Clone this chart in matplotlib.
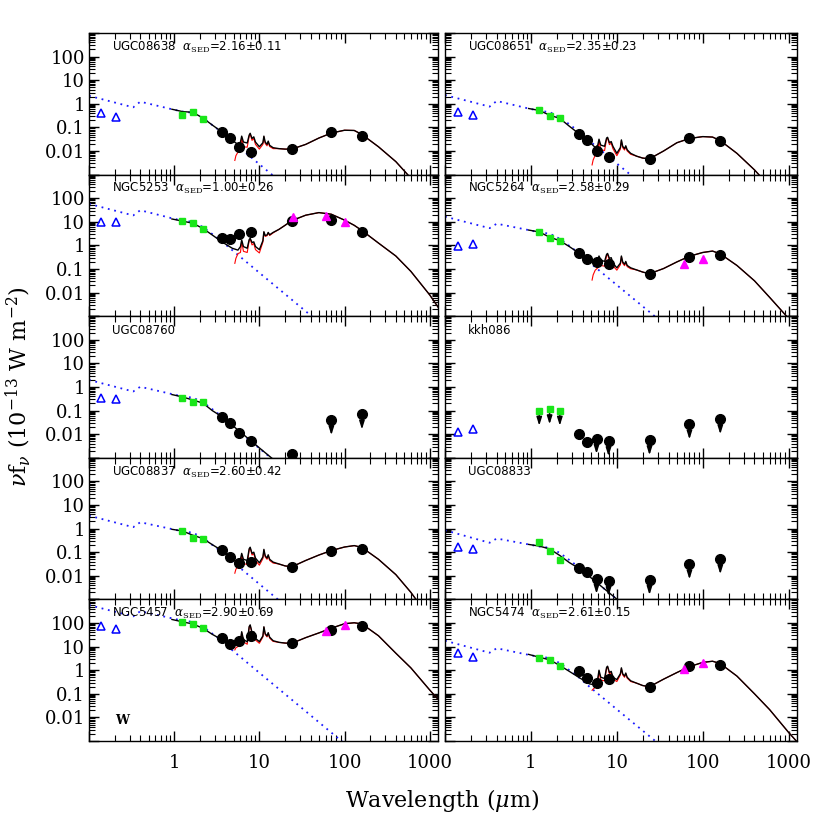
import numpy as np
import matplotlib
matplotlib.use('Agg')
import matplotlib.pyplot as plt
from matplotlib.ticker import FixedLocator, FixedFormatter, LogLocator, NullFormatter

plt.rcParams['mathtext.fontset'] = 'dejavuserif'

# ------------------------------------------------------------------ data
NAMES = ['UGC08638', 'UGC08651', 'NGC5253', 'NGC5264', 'UGC08760',
         'kkh086', 'UGC08837', 'UGC08833', 'NGC5457', 'NGC5474']
ALPHA = ['2.16\u00b10.11', '2.35\u00b10.23', '1.00\u00b10.26', '2.58\u00b10.29', None,
         None, '2.60\u00b10.42', None, '2.90\u00b10.69', '2.61\u00b10.15']

# all fluxes below are log10( nu f_nu / 1e-13 W m^-2 )
UV_WL = [0.14, 0.21]
UV_LOGF = [[-0.40, -0.55], [-0.33, -0.47], [0.98, 0.98], [-0.03, 0.06], [-0.48, -0.52],
           [-1.89, -1.79], None, [-0.79, -0.86], [1.87, 1.75], [0.72, 0.58]]

NIR_WL = [1.25, 1.65, 2.17]
NIR_LOGF = [[-0.47, -0.36, -0.66], [-0.28, -0.52, -0.62], [1.03, 0.94, 0.70],
            [0.57, 0.33, 0.19], [-0.45, -0.62, -0.65], [-1.00, -0.94, -1.00],
            [-0.09, -0.40, -0.42], [-0.55, -0.95, -1.33], [2.03, 1.96, 1.78],
            [0.53, 0.43, 0.18]]
NIR_LIMIT = [[0, 0, 0]] * 5 + [[1, 1, 1]] + [[0, 0, 0]] * 4

IR_WL = [3.6, 4.5, 5.8, 8.0, 24.0, 70.0, 160.0]
IR_LOGF = [[-1.18, -1.46, -1.84, -2.06, -1.92, -1.21, -1.35],
           [-1.28, -1.53, -2.01, -2.27, -2.34, -1.46, -1.58],
           [0.33, 0.26, 0.47, 0.57, 1.05, 1.08, 0.58],
           [-0.34, -0.59, -0.72, -0.79, -1.21, -0.48, -0.39],
           [-1.28, -1.54, -1.96, -2.29, -2.84, -1.40, -1.16],
           [-2.00, -2.32, -2.19, -2.29, -2.25, -1.58, -1.36],
           [-0.91, -1.19, -1.44, -1.40, -1.64, -0.93, -0.85],
           [-1.68, -1.86, -2.12, -2.22, -2.17, -1.51, -1.29],
           [1.38, 1.11, 1.24, 1.45, 1.14, 1.70, 1.87],
           [-0.03, -0.33, -0.55, -0.38, -0.72, 0.18, 0.24]]
IR_LIMIT = [[0] * 7, [0] * 7, [0] * 7, [0] * 7,
            [0, 0, 0, 0, 0, 1, 1],
            [0, 0, 1, 1, 1, 1, 1],
            [0] * 7,
            [0, 0, 1, 1, 1, 1, 1],
            [0] * 7, [0] * 7]

IRAS_WL = [[], [], [25.0, 60.0, 100.0], [60.0, 100.0], [], [], [], [],
           [60.0, 100.0], [60.0, 100.0]]
IRAS_LOGF = [[], [], [1.22, 1.25, 1.00], [-0.79, -0.59], [], [], [], [],
             [1.66, 1.92], [0.05, 0.29]]

# stellar model (blue dotted)
STAR_WL = [0.1, 0.33, 0.40, 0.94, 1.25, 1.65, 2.17, 2.8, 3.6, 4.8, 10.0, 30.0, 100.0]
STAR_LOGF = [[0.34, -0.15, 0.09, -0.23, -0.33, -0.38, -0.60, -0.90, -1.20, -1.60, -2.56, -3.99, -5.56],
             [0.37, -0.12, 0.12, -0.20, -0.30, -0.35, -0.57, -0.87, -1.17, -1.57, -2.53, -3.96, -5.53],
             [1.76, 1.27, 1.49, 1.15, 1.05, 1.00, 0.78, 0.48, 0.18, -0.20, -1.16, -2.59, -4.16],
             [1.22, 0.73, 0.92, 0.65, 0.55, 0.50, 0.28, -0.02, -0.32, -0.72, -1.68, -3.11, -4.68],
             [0.30, -0.19, 0.01, -0.30, -0.40, -0.45, -0.64, -0.94, -1.24, -1.64, -2.60, -4.03, -5.60],
             None,
             [0.55, 0.06, 0.27, -0.02, -0.12, -0.17, -0.39, -0.69, -0.99, -1.39, -2.35, -3.78, -5.35],
             [-0.07, -0.60, -0.42, -0.67, -0.76, -0.81, -1.03, -1.33, -1.63, -2.03, -2.99, -4.42, -5.99],
             [2.76, 2.28, 2.50, 2.20, 2.10, 2.05, 1.85, 1.55, 1.25, 0.85, -0.11, -1.54, -3.11],
             [1.25, 0.74, 0.93, 0.65, 0.57, 0.52, 0.30, 0.00, -0.30, -0.70, -1.66, -3.09, -4.66]]

# total model (black solid)
MODEL_WL = [0.94, 1.25, 1.65, 2.17, 2.8, 3.6, 4.8, 5.6, 6.0, 6.2, 6.5, 7.2, 7.6, 7.8, 8.2,
            8.6, 9.0, 10.0, 11.0, 11.3, 11.7, 12.3, 12.7, 13.2, 14.5, 17.0, 20.0, 24.0,
            35.0, 50.0, 70.0, 100.0, 130.0, 160.0, 250.0, 400.0, 600.0, 1000.0, 1300.0]
MODEL_LOGF = [
    [-0.23, -0.33, -0.36, -0.60, -0.90, -1.18, -1.55, -1.72, -1.62, -1.37, -1.62, -1.66, -1.32,
     -1.25, -1.47, -1.40, -1.62, -1.82, -1.65, -1.37, -1.62, -1.72, -1.58, -1.76, -1.86, -1.90,
     -1.92, -1.92, -1.72, -1.45, -1.24, -1.12, -1.13, -1.30, -1.82, -2.45, -3.15, -4.20, -4.80],
    [-0.20, -0.28, -0.48, -0.62, -0.95, -1.26, -1.62, -1.85, -1.75, -1.50, -1.75, -1.80, -1.45,
     -1.42, -1.65, -1.60, -1.80, -2.10, -1.85, -1.53, -1.80, -1.90, -1.78, -1.95, -2.10, -2.22,
     -2.30, -2.33, -2.00, -1.65, -1.47, -1.39, -1.41, -1.56, -2.10, -2.80, -3.50, -4.60, -5.20],
    [1.12, 1.03, 0.94, 0.72, 0.44, 0.16, -0.12, -0.20, -0.05, 0.23, -0.05, -0.12, 0.25,
     0.30, 0.12, 0.15, -0.05, -0.18, 0.20, 0.58, 0.42, 0.44, 0.55, 0.45, 0.55, 0.68,
     0.85, 1.05, 1.28, 1.39, 1.32, 1.07, 0.85, 0.63, 0.10, -0.45, -1.10, -2.10, -2.70],
    [0.65, 0.57, 0.35, 0.20, -0.05, -0.32, -0.62, -0.70, -0.60, -0.45, -0.62, -0.68, -0.38,
     -0.34, -0.55, -0.52, -0.75, -0.95, -0.75, -0.45, -0.70, -0.80, -0.68, -0.85, -0.95, -1.04,
     -1.13, -1.20, -0.98, -0.70, -0.46, -0.30, -0.24, -0.36, -0.85, -1.50, -2.20, -3.10, -3.70],
    None,
    None,
    [-0.03, -0.10, -0.28, -0.42, -0.68, -0.92, -1.30, -1.45, -1.30, -1.05, -1.30, -1.35, -0.85,
     -0.79, -1.05, -1.00, -1.25, -1.45, -1.20, -0.88, -1.15, -1.25, -1.11, -1.30, -1.42, -1.50,
     -1.58, -1.62, -1.35, -1.12, -0.93, -0.78, -0.72, -0.80, -1.30, -1.95, -2.70, -3.80, -4.40],
    None,
    [2.15, 2.05, 1.96, 1.78, 1.52, 1.30, 1.08, 1.07, 1.25, 1.63, 1.30, 1.20, 1.85,
     1.92, 1.60, 1.63, 1.35, 1.21, 1.45, 1.84, 1.55, 1.45, 1.59, 1.40, 1.25, 1.18,
     1.15, 1.14, 1.38, 1.58, 1.78, 1.97, 2.01, 1.96, 1.46, 0.72, 0.10, -0.84, -1.30],
    [0.67, 0.55, 0.44, 0.20, -0.05, -0.30, -0.58, -0.62, -0.35, 0.00, -0.30, -0.35, 0.12,
     0.17, -0.10, -0.05, -0.30, -0.40, -0.15, 0.10, -0.15, -0.25, -0.12, -0.30, -0.45, -0.55,
     -0.65, -0.70, -0.38, -0.10, 0.15, 0.33, 0.38, 0.28, -0.25, -1.00, -1.67, -2.64, -3.10]]

# stellar-only total for panels without a dust fit (black solid)
STELLAR_TOTAL_WL = [0.94, 1.25, 1.65, 2.17, 2.8, 3.6, 4.8, 10.0, 30.0]
STELLAR_TOTAL_LOGF = {4: [-0.32, -0.42, -0.55, -0.68, -1.00, -1.25, -1.62, -2.58, -4.00],
                      7: [-0.67, -0.74, -0.86, -1.14, -1.44, -1.68, -2.03, -2.99, -4.42]}

# dust-only model (red) at short wavelengths; beyond it follows the total model
RED_WL = [5.15, 5.3, 5.6, 6.0, 6.2, 6.5, 7.2, 7.6, 7.8, 8.2, 8.6, 9.0, 10.0, 11.0, 11.3,
          11.7, 12.3, 12.7, 13.2, 14.5]
RED_LOGF = {
    0: [-2.40, -2.20, -2.05, -1.92, -1.42, -1.82, -1.84, -1.36, -1.28, -1.55, -1.47, -1.72,
        -1.92, -1.72, -1.40, -1.68, -1.78, -1.62, -1.81, -1.90],
    1: [-2.59, -2.38, -2.18, -2.05, -1.55, -1.95, -1.98, -1.49, -1.45, -1.73, -1.67, -1.90,
        -2.20, -1.92, -1.56, -1.86, -1.96, -1.82, -2.00, -2.14],
    2: [-0.76, -0.55, -0.35, -0.30, 0.18, -0.25, -0.30, 0.21, 0.27, 0.02, 0.08, -0.18,
        -0.32, 0.14, 0.56, 0.38, 0.41, 0.53, 0.42, 0.53],
    3: [-1.47, -1.25, -1.05, -0.95, -0.52, -0.85, -0.88, -0.43, -0.38, -0.65, -0.60, -0.86,
        -1.05, -0.82, -0.48, -0.76, -0.86, -0.72, -0.90, -0.99],
    6: [-1.89, -1.72, -1.62, -1.55, -1.10, -1.48, -1.52, -0.89, -0.82, -1.12, -1.06, -1.35,
        -1.55, -1.27, -0.91, -1.20, -1.30, -1.15, -1.35, -1.46],
    8: [0.86, 0.95, 1.00, 1.12, 1.60, 1.20, 1.10, 1.83, 1.90, 1.55, 1.59, 1.28, 1.14, 1.41,
        1.82, 1.51, 1.41, 1.56, 1.36, 1.22],
    9: [-0.85, -0.80, -0.72, -0.52, -0.05, -0.42, -0.45, 0.09, 0.15, -0.16, -0.10, -0.38,
        -0.48, -0.20, 0.07, -0.20, -0.30, -0.15, -0.34, -0.48]}

Y_TICKS = [1e-3, 1e-2, 1e-1, 1, 10, 100, 1e3]
Y_TICKLABELS = ['', '0.01', '0.1', '1', '10', '100', '']
X_TICKS = [0.1, 1, 10, 100, 1000]
X_TICKLABELS = ['', '1', '10', '100', '1000']

# ------------------------------------------------------------------ figure
W = 830.0
fig = plt.figure(figsize=(8.3, 8.3), dpi=100)
COLS = [(89, 438), (445, 797)]
TOP, ROWH = 33.0, 141.6

GREEN = '#19e619'
ARROW_DEX = 0.64


def down_arrow(ax, x, logy):
    ax.annotate('', xy=(x, 10 ** (logy - ARROW_DEX)), xytext=(x, 10 ** logy),
                arrowprops=dict(arrowstyle='-|>,head_width=0.22,head_length=0.7',
                                lw=1.1, color='k', shrinkA=0, shrinkB=0,
                                mutation_scale=7),
                zorder=4)


for i in range(10):
    r, c = divmod(i, 2)
    x0, x1 = COLS[c]
    ytop = TOP + r * ROWH
    ax = fig.add_axes([x0 / W, 1 - (ytop + ROWH) / W, (x1 - x0) / W, ROWH / W])
    ax.set_xscale('log')
    ax.set_yscale('log')
    ax.set_xlim(0.1, 1250)
    ax.set_ylim(1e-3, 1e3)

    # stellar model
    if STAR_LOGF[i] is not None:
        ax.plot(STAR_WL, 10 ** np.array(STAR_LOGF[i]), color='#1a1aff',
                ls=(0, (1, 2.6)), lw=1.3, zorder=2)
    # dust model (red) and total model (black)
    if MODEL_LOGF[i] is not None:
        red_wl = RED_WL + MODEL_WL[25:]
        red_f = RED_LOGF[i] + MODEL_LOGF[i][25:]
        ax.plot(red_wl, 10 ** np.array(red_f), color='#ff0000', lw=0.8, zorder=2.5)
        ax.plot(MODEL_WL, 10 ** np.array(MODEL_LOGF[i]), color='k', lw=1.0, zorder=3)
    if i in STELLAR_TOTAL_LOGF:
        ax.plot(STELLAR_TOTAL_WL, 10 ** np.array(STELLAR_TOTAL_LOGF[i]), color='k',
                lw=1.0, zorder=3)

    # photometry
    if UV_LOGF[i] is not None:
        ax.plot(UV_WL, 10 ** np.array(UV_LOGF[i]), ls='none', marker='^', ms=6.0,
                mfc='none', mec='#0000ff', mew=1.1, zorder=5)
    ax.plot(NIR_WL, 10 ** np.array(NIR_LOGF[i]), ls='none', marker='s', ms=5.0,
            mfc=GREEN, mec=GREEN, zorder=5)
    for x, f, lim in zip(NIR_WL, NIR_LOGF[i], NIR_LIMIT[i]):
        if lim:
            down_arrow(ax, x, f)
    ax.plot(IR_WL, 10 ** np.array(IR_LOGF[i]), ls='none', marker='o', ms=7.0,
            mfc='k', mec='k', zorder=5)
    for x, f, lim in zip(IR_WL, IR_LOGF[i], IR_LIMIT[i]):
        if lim:
            down_arrow(ax, x, f)
    if IRAS_WL[i]:
        ax.plot(IRAS_WL[i], 10 ** np.array(IRAS_LOGF[i]), ls='none', marker='^', ms=6.0,
                mfc='#ff00ff', mec='#ff00ff', zorder=5)

    # labels
    if ALPHA[i] is None:
        lab = NAMES[i]
    else:
        lab = NAMES[i] + r'  $\alpha_{\rm SED}$=' + ALPHA[i]
    ax.text(0.066, 0.90, lab, transform=ax.transAxes, fontsize=8.5,
            family='DejaVu Sans', va='center', ha='left', zorder=6)
    if i == 8:
        ax.text(0.075, 0.145, 'W', transform=ax.transAxes, fontsize=9,
                family='DejaVu Serif', fontweight='bold', va='center', ha='left')

    # ticks
    ax.xaxis.set_major_locator(FixedLocator(X_TICKS))
    ax.xaxis.set_minor_locator(LogLocator(base=10, subs=np.arange(2, 10), numticks=30))
    ax.yaxis.set_major_locator(FixedLocator(Y_TICKS))
    ax.yaxis.set_minor_locator(LogLocator(base=10, subs=np.arange(2, 10), numticks=30))
    ax.xaxis.set_minor_formatter(NullFormatter())
    ax.yaxis.set_minor_formatter(NullFormatter())
    if r == 4:
        ax.xaxis.set_major_formatter(FixedFormatter(X_TICKLABELS))
    else:
        ax.xaxis.set_major_formatter(NullFormatter())
    if c == 0:
        ax.yaxis.set_major_formatter(FixedFormatter(Y_TICKLABELS))
    else:
        ax.yaxis.set_major_formatter(NullFormatter())
    ax.tick_params(which='both', direction='in', top=True, right=True)
    ax.tick_params(which='major', length=7, width=1.0)
    ax.tick_params(which='minor', length=4, width=0.8)
    ax.tick_params(axis='y', which='major', labelsize=13, pad=3)
    ax.tick_params(axis='x', which='major', labelsize=13, pad=9)
    for lbl in ax.get_xticklabels() + ax.get_yticklabels():
        lbl.set_family('DejaVu Serif')
    for s in ax.spines.values():
        s.set_linewidth(1.0)

fig.text(18 / W, 1 - 387 / W, r'$\nu$f$_\nu$ (10$^{-13}$ W m$^{-2}$)', rotation=90,
         ha='center', va='center', fontsize=16, family='DejaVu Serif')
fig.text(442 / W, 1 - 800 / W, r'Wavelength ($\mu$m)', ha='center', va='center',
         fontsize=16, family='DejaVu Serif')

fig.savefig('out.png', dpi=100)
